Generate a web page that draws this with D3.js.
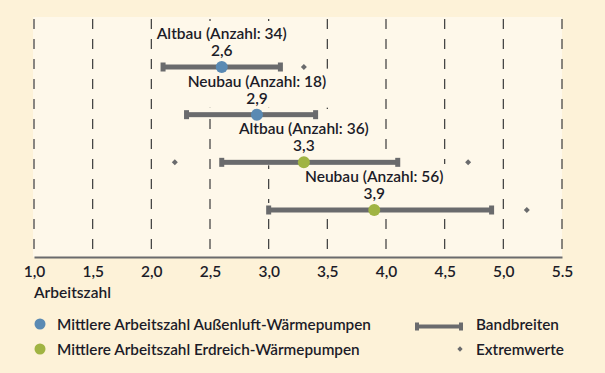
<!DOCTYPE html>
<html>
<head>
<meta charset="utf-8">
<script src="https://cdn.jsdelivr.net/npm/d3@7"></script>
<style>
  body { margin: 0; background: #fdf2d8; }
  svg { display: block; font-family: Lato, sans-serif; }
</style>
</head>
<body>
<svg id="chart" width="605" height="373"></svg>
<script>
// Daten
var labels = ["Altbau (Anzahl: 34)", "Neubau (Anzahl: 18)", "Altbau (Anzahl: 36)", "Neubau (Anzahl: 56)"];
var kind = ["luft", "luft", "erd", "erd"];
var means = [2.6, 2.9, 3.3, 3.9];
var lows = [2.1, 2.3, 2.6, 3.0];
var highs = [3.1, 3.4, 4.1, 4.9];
var extremes = [[3.3], [], [2.2, 4.7], [5.2]];
var tickValues = [1.0, 1.5, 2.0, 2.5, 3.0, 3.5, 4.0, 4.5, 5.0, 5.5];
var tickLabels = ["1,0", "1,5", "2,0", "2,5", "3,0", "3,5", "4,0", "4,5", "5,0", "5.5"];
var legendLabels = ["Mittlere Arbeitszahl Außenluft-Wärmepumpen", "Mittlere Arbeitszahl Erdreich-Wärmepumpen"];

var colors = { luft: "#5a8ab3", erd: "#a0b443" };
var grey = "#6a6b6d";
var textCol = "#1c1c28";
var plotBg = "#fef8ea";
var fs = 15.5;

var svg = d3.select("#chart");
var plotTop = 17, plotBottom = 257, plotLeft = 34, plotRight = 562;

var x = d3.scaleLinear().domain([1, 5.5]).range([plotLeft, plotRight]);
var y = d3.scalePoint().domain(d3.range(labels.length)).range([67, 210]);

svg.append("rect")
	.attr("x", plotLeft - 1).attr("y", plotTop)
	.attr("width", plotRight - plotLeft + 1).attr("height", plotBottom - plotTop)
	.attr("fill", plotBg);

// gestrichelte Gitterlinien
svg.append("g").selectAll("line")
	.data(tickValues)
	.join("line")
	.attr("x1", d => x(d)).attr("x2", d => x(d))
	.attr("y1", plotTop + 2).attr("y2", plotBottom)
	.attr("stroke", "#3a3a3a")
	.attr("stroke-width", 1.2)
	.attr("stroke-dasharray", "10,10");

// Achse
var axis = svg.append("g")
	.attr("transform", "translate(0," + plotBottom + ")")
	.call(d3.axisBottom(x).tickValues(tickValues).tickSize(0).tickPadding(9)
		.tickFormat((d, i) => tickLabels[i]));
axis.select(".domain").attr("stroke", grey).attr("stroke-width", 2);
axis.selectAll("text")
	.attr("font-family", "Lato, sans-serif")
	.attr("font-size", 15.5)
	.attr("font-weight", 600)
	.attr("fill", textCol);

svg.append("text")
	.attr("x", plotLeft).attr("y", 298)
	.attr("font-size", fs).attr("font-weight", 600)
	.attr("fill", textCol)
	.text("Arbeitszahl");

// Gruppen: Hintergründe zuerst, damit sie keine Balken überdecken
var bgLayer = svg.append("g");
var rows = svg.append("g");
labels.forEach(function(lab, i) {
	var g = rows.append("g");
	var by = y(i);

	// Beschriftung + Mittelwert als zweizeiliger Text
	var t = g.append("text")
		.attr("x", x(means[i])).attr("y", by - 28)
		.attr("text-anchor", "middle")
		.attr("font-size", fs).attr("font-weight", 600)
		.attr("fill", textCol);
	t.append("tspan").attr("x", x(means[i])).text(lab);
	t.append("tspan").attr("x", x(means[i])).attr("dy", 17)
		.text(String(means[i]).replace(".", ","));

	var bb = t.node().getBBox();
	bgLayer.append("rect").attr("fill", plotBg)
		.attr("x", bb.x - 3).attr("y", bb.y - 3)
		.attr("width", bb.width + 6).attr("height", (by - 7) - (bb.y - 3));
	bgLayer.append("rect").attr("fill", plotBg)
		.attr("x", x(lows[i]) - 4).attr("y", by - 7)
		.attr("width", x(highs[i]) - x(lows[i]) + 8).attr("height", 10);

	g.append("rect")
		.attr("x", x(lows[i])).attr("y", by - 2.5)
		.attr("width", x(highs[i]) - x(lows[i])).attr("height", 5)
		.attr("fill", grey);
	[lows[i], highs[i]].forEach(function(v) {
		g.append("rect")
			.attr("x", x(v) - 2.5).attr("y", by - 4.5)
			.attr("width", 5).attr("height", 9)
			.attr("fill", grey);
	});
	extremes[i].forEach(function(v) {
		g.append("path")
			.attr("d", d3.symbol(d3.symbolSquare, 18)())
			.attr("transform", "translate(" + x(v) + "," + by + ") rotate(45)")
			.attr("fill", grey);
	});
	g.append("circle")
		.attr("cx", x(means[i])).attr("cy", by)
		.attr("r", 6)
		.attr("fill", colors[kind[i]]);
});

// Legende
var leg = svg.append("g");
["luft", "erd"].forEach(function(k, i) {
	leg.append("circle")
		.attr("cx", 40).attr("cy", 324 + i * 25)
		.attr("r", 5.5).attr("fill", colors[k]);
	leg.append("text")
		.attr("x", 57).attr("y", 330 + i * 25)
		.attr("font-size", 15.3).attr("font-weight", 600)
		.attr("fill", textCol)
		.text(legendLabels[i]);
});
leg.append("rect").attr("x", 416).attr("y", 324.5).attr("width", 46).attr("height", 4).attr("fill", grey);
leg.append("rect").attr("x", 415).attr("y", 322.5).attr("width", 4).attr("height", 8).attr("fill", grey);
leg.append("rect").attr("x", 459).attr("y", 322.5).attr("width", 4).attr("height", 8).attr("fill", grey);
leg.append("path")
	.attr("d", d3.symbol(d3.symbolSquare, 14)())
	.attr("transform", "translate(460,349) rotate(45)")
	.attr("fill", grey);
leg.append("text").attr("x", 476).attr("y", 330)
	.attr("font-size", 15.3).attr("font-weight", 600).attr("fill", textCol)
	.text("Bandbreiten");
leg.append("text").attr("x", 476).attr("y", 355)
	.attr("font-size", 15.3).attr("font-weight", 600).attr("fill", textCol)
	.text("Extremwerte");
</script>
</body>
</html>
